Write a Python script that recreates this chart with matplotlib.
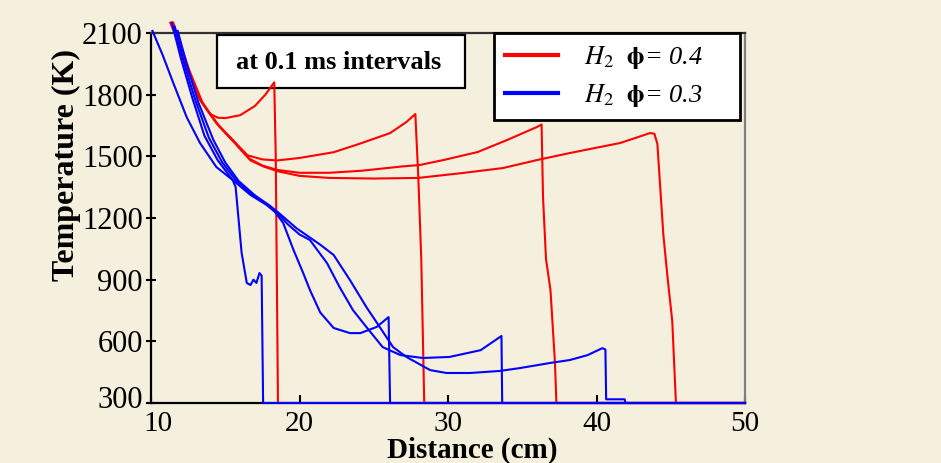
import matplotlib
matplotlib.use("Agg")
import matplotlib.pyplot as plt
from matplotlib.lines import Line2D
from matplotlib.patches import Rectangle
from matplotlib.transforms import ScaledTranslation

plt.rcParams['font.family'] = ['Liberation Serif', 'DejaVu Serif']
plt.rcParams['mathtext.fontset'] = 'stix'

# ---- data: phi = 0.4 (red), four profiles at 0.1 ms intervals ----
r1_x = [11.4, 11.8, 12.4, 13.3, 14.0, 14.5, 15.0, 16.0, 17.0, 17.7, 18.3, 18.4, 18.55, 50]
r1_y = [2150, 2060, 1935, 1780, 1705, 1688, 1686, 1700, 1745, 1800, 1860, 1500, 300, 300]

r2_x = [11.3, 11.8, 12.4, 13.3, 14.4, 15.5, 16.5, 17.5, 18.5, 20.0, 22.3, 24.0, 26.1, 27.2, 27.8, 28.0, 28.2, 28.4, 50]
r2_y = [2150, 2060, 1935, 1774, 1662, 1580, 1505, 1485, 1480, 1492, 1520, 1560, 1613, 1667, 1706, 1400, 1000, 300, 300]

r3_x = [11.4, 11.9, 12.5, 13.4, 14.5, 15.6, 16.6, 17.5, 18.5, 20.0, 22.0, 24.2, 26.8, 28.1, 29.7, 32.0, 34.0, 36.0, 36.3, 36.4, 36.6, 36.9, 37.2, 37.3, 50]
r3_y = [2150, 2050, 1925, 1765, 1655, 1570, 1490, 1455, 1434, 1420, 1420, 1430, 1450, 1458, 1482, 1521, 1580, 1643, 1655, 1300, 1000, 850, 500, 300, 300]

r4_x = [11.5, 12.0, 12.6, 13.5, 14.6, 15.7, 16.7, 17.6, 18.5, 20.0, 22.0, 25.0, 28.0, 31.0, 33.7, 36.0, 38.2, 41.6, 43.6, 43.9, 44.1, 44.5, 44.8, 45.1, 45.35, 50]
r4_y = [2150, 2040, 1915, 1755, 1645, 1560, 1480, 1450, 1428, 1405, 1395, 1392, 1395, 1419, 1443, 1482, 1516, 1565, 1613, 1610, 1560, 1120, 900, 700, 300, 300]

# ---- data: phi = 0.3 (blue) ----
b1_x = [10.1, 10.8, 11.5, 12.4, 13.3, 14.4, 15.5, 15.7, 16.1, 16.45, 16.7, 16.9, 17.1, 17.3, 17.45, 17.55, 50]
b1_y = [2110, 1990, 1857, 1691, 1565, 1448, 1385, 1350, 1032, 884, 874, 900, 884, 932, 920, 300, 300]

b2_x = [11.4, 12.0, 12.8, 13.6, 14.5, 15.5, 16.7, 17.8, 18.35, 18.9, 19.6, 20.25, 20.7, 21.4, 22.3, 23.4, 24.1, 25.2, 26.0, 26.1, 50]
b2_y = [2150, 1980, 1780, 1600, 1480, 1385, 1312, 1263, 1229, 1176, 1044, 932, 850, 740, 665, 640, 640, 670, 718, 300, 300]

b3_x = [11.6, 12.2, 13.0, 13.9, 14.8, 15.7, 16.8, 17.8, 18.5, 19.2, 20.0, 20.7, 21.85, 22.7, 23.6, 24.5, 25.6, 26.8, 28.3, 30.1, 32.2, 33.6, 33.65, 50]
b3_y = [2130, 1960, 1770, 1590, 1470, 1385, 1315, 1265, 1225, 1170, 1120, 1093, 981, 864, 752, 670, 572, 533, 519, 524, 557, 626, 300, 300]

b4_x = [11.8, 12.4, 13.2, 14.2, 15.0, 15.9, 17.0, 18.0, 18.6, 19.8, 20.6, 21.4, 22.3, 23.4, 24.5, 25.4, 26.3, 27.2, 28.8, 29.9, 31.5, 33.5, 34.85, 36.9, 38.2, 39.4, 40.4, 40.6, 40.65, 41.9, 41.95, 50]
b4_y = [2110, 1950, 1760, 1580, 1470, 1380, 1310, 1260, 1225, 1150, 1110, 1070, 1020, 898, 767, 670, 572, 524, 460, 446, 446, 456, 470, 495, 509, 533, 567, 560, 318, 318, 300, 300]

red_series = [(r1_x, r1_y), (r2_x, r2_y), (r3_x, r3_y), (r4_x, r4_y)]
blue_series = [(b1_x, b1_y), (b2_x, b2_y), (b3_x, b3_y), (b4_x, b4_y)]

x_ticks = [10, 20, 30, 40, 50]
y_ticks = [300, 600, 900, 1200, 1500, 1800, 2100]
legend_labels = [r'$H_2$  $\mathbf{\phi}$= 0.4', r'$H_2$  $\mathbf{\phi}$= 0.3']
annotation = 'at 0.1 ms intervals'

BG = '#f5efdd'
RED = '#ff0000'
BLUE = '#0000ff'

fig = plt.figure(figsize=(9.41, 4.63), dpi=100, facecolor=BG)
ax = fig.add_axes([151 / 941, 1 - 403 / 463, 594 / 941, 370 / 463])
ax.set_facecolor(BG)

for xs, ys in red_series:
    ax.plot(xs, ys, color=RED, lw=1.5, clip_on=False, zorder=3)
for xs, ys in blue_series:
    ax.plot(xs, ys, color=BLUE, lw=1.5, clip_on=False, zorder=3.1)

ax.set_xlim(10, 50)
ax.set_ylim(300, 2100)
ax.set_xticks(x_ticks)
ax.set_yticks(y_ticks)
ax.tick_params(axis='x', direction='in', length=6, width=1.5, labelsize=21, pad=6, colors='black')
ax.tick_params(axis='y', direction='inout', length=7, width=1.5, labelsize=22, pad=2.5, colors='black')

# keep the corner labels "300" and "10" from colliding
xt0 = ax.xaxis.get_major_ticks()[0].label1
xt0.set_transform(xt0.get_transform() + ScaledTranslation(7 / 100, 0, fig.dpi_scale_trans))
yt0 = ax.yaxis.get_major_ticks()[0].label1
yt0.set_transform(yt0.get_transform() + ScaledTranslation(0, 6 / 100, fig.dpi_scale_trans))

for s in ['left', 'bottom']:
    ax.spines[s].set_color('black')
    ax.spines[s].set_linewidth(1.6)
ax.spines['top'].set_color('#333333')
ax.spines['top'].set_linewidth(1.6)
ax.spines['right'].set_color('#808080')
ax.spines['right'].set_linewidth(1.6)

ax.set_xlabel('Distance (cm)', fontsize=21, fontweight='bold')
ax.set_ylabel('Temperature (K)', fontsize=23, fontweight='bold')
ax.xaxis.set_label_coords(0.54, -0.090)
ax.yaxis.set_label_coords(-0.118, 0.643)

# annotation box
ax.add_patch(Rectangle((0.111, 0.851), 0.4175, 0.143, transform=ax.transAxes,
                       facecolor='white', edgecolor='black', lw=1.6, zorder=2.8, clip_on=False))
ax.text(0.316, 0.920, annotation, transform=ax.transAxes, ha='center', va='center',
        fontsize=19, fontweight='bold', zorder=2.9)

handles = [Line2D([], [], color=RED, lw=3), Line2D([], [], color=BLUE, lw=3)]
leg = ax.legend(handles, legend_labels, loc='upper left',
                bbox_to_anchor=(0.577, 0.746, 0.415, 0.254), mode='expand',
                borderaxespad=0, frameon=True, fancybox=False,
                prop={'family': ['Liberation Serif', 'DejaVu Serif'], 'style': 'italic', 'size': 19},
                framealpha=1, edgecolor='black', facecolor='white',
                borderpad=0.42, handlelength=2.0, handletextpad=1.0, labelspacing=0.42)
leg.get_frame().set_linewidth(2)
leg.set_zorder(5)

fig.savefig('out.png', dpi=100, facecolor=BG)
